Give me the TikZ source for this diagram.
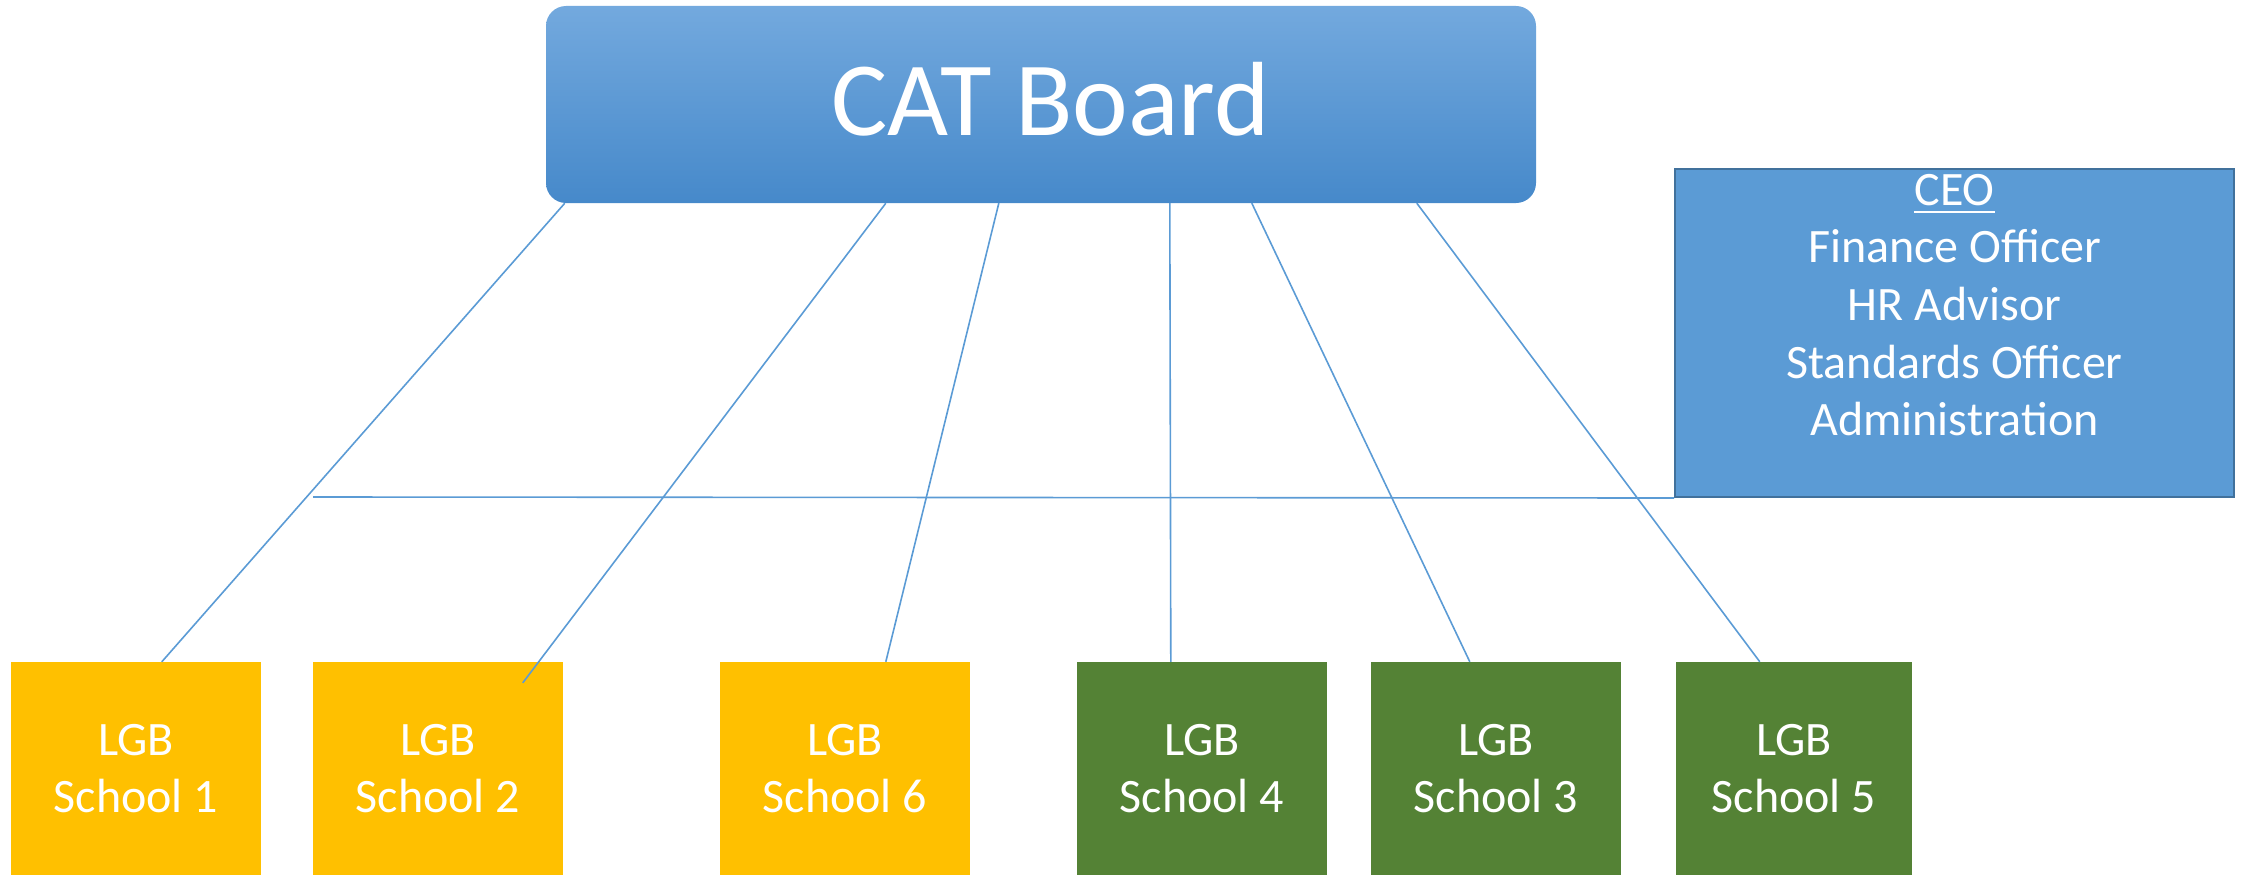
\documentclass[tikz,border=0pt]{standalone}
\usepackage{fontspec}
\setmainfont{Carlito}
\usetikzlibrary{calc}
\definecolor{boardtop}{HTML}{73A9DE}
\definecolor{boardmid}{HTML}{5A9BDA}
\definecolor{boardbot}{HTML}{4689CA}
\definecolor{ceofill}{HTML}{5B9BD5}
\definecolor{ceoborder}{HTML}{41719C}
\definecolor{lineblue}{HTML}{5B9BD5}
\definecolor{schoolyellow}{HTML}{FFC000}
\definecolor{schoolgreen}{HTML}{548235}
\newcommand\myul[1]{\setbox0\hbox{#1}\rlap{\rule[-8pt]{\wd0}{2.4pt}}\box0}
\tikzset{
  school/.style={rectangle, minimum width=250pt, minimum height=213pt, inner sep=0pt,
    text=white, font=\fontsize{48}{57.6}\selectfont, align=center},
  yellowbox/.style={school, fill=schoolyellow},
  greenbox/.style={school, fill=schoolgreen},
  conn/.style={draw=lineblue, line width=1.6pt},
}
\begin{document}
\begin{tikzpicture}[x=1pt,y=-1pt]
\useasboundingbox (0,0) rectangle (2250,875);
% CAT board
\node[rectangle, rounded corners=20pt, minimum width=990pt, minimum height=197pt, inner sep=0pt,
  top color=boardtop, middle color=boardmid, bottom color=boardbot] (board) at (1041,104.5) {};
\node[anchor=base, inner sep=0pt, text=white, font=\fontsize{105.5}{126}\selectfont]
  (boardtxt) at ([xshift=9.5pt,yshift=-30.5pt]board.center) {CAT Board};
% CEO box
\node[rectangle, draw=ceoborder, line width=2pt, fill=ceofill, minimum width=559pt,
  minimum height=328pt, inner sep=0pt] (ceo) at (1954.5,333) {};
\node[anchor=north, inner sep=0pt, text=white, font=\fontsize{48}{57.6}\selectfont, align=center]
  (ceotxt) at ([yshift=-6pt]ceo.north)
  {\myul{CEO}\\Finance Officer\\HR Advisor\\Standards Officer\\Administration};
% schools
\node[yellowbox] (s1) at (136,768.5) {LGB\\School 1};
\node[yellowbox] (s2) at (438,768.5) {LGB\\School 2};
\node[yellowbox] (s6) at (845,768.5) {LGB\\School 6};
\node[greenbox] (s4) at (1202,768.5) {LGB\\School 4};
\node[greenbox] (s3) at (1496,768.5) {LGB\\School 3};
\node[greenbox, minimum width=236pt] (s5) at (1794,768.5) {LGB\\School 5};
% horizontal line
\coordinate (hstart) at (313,497);
\draw[conn] (hstart) -- (ceo.south west);
% connectors
\draw[conn] ([xshift=19pt]board.south west) -- ([xshift=151pt]s1.north west);
\draw[conn] ([xshift=340pt]board.south west) -- ([xshift=210pt,yshift=-21pt]s2.north west);
\draw[conn] ([xshift=453pt]board.south west) -- ([xshift=166pt]s6.north west);
\draw[conn] ([xshift=624pt]board.south west) -- ([xshift=94pt]s4.north west);
\draw[conn] ([xshift=706pt]board.south west) -- ([xshift=99pt]s3.north west);
\draw[conn] ([xshift=871pt]board.south west) -- ([xshift=84pt]s5.north west);
\end{tikzpicture}
\end{document}
